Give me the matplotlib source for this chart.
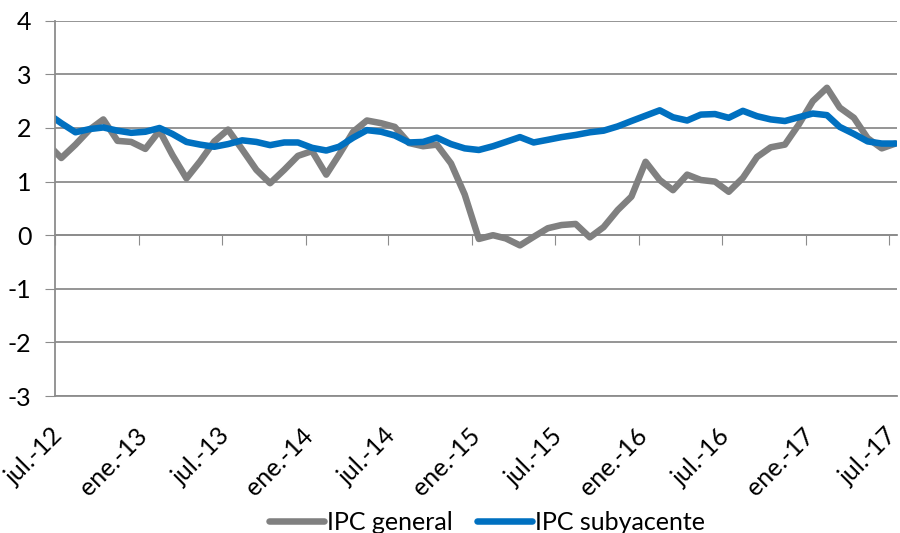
import matplotlib
matplotlib.use("Agg")
import matplotlib.pyplot as plt
import matplotlib.transforms as mtransforms
import pandas as pd

# monthly values, jun-12 .. jul-17 (jun-12 only shows as the clipped start)
months = pd.date_range("2012-06-01", "2017-07-01", freq="MS") + pd.Timedelta(days=14)

ipc_general = [1.70,
    1.44, 1.69, 1.97, 2.16, 1.76, 1.74, 1.61, 1.95, 1.50, 1.06,
    1.38, 1.75, 1.97, 1.60, 1.22, 0.97, 1.22, 1.48, 1.57, 1.13,
    1.50, 1.93, 2.14, 2.09, 2.02, 1.72, 1.66, 1.69, 1.34, 0.76,
    -0.07, 0.00, -0.06, -0.19, -0.03, 0.13, 0.19, 0.21, -0.04, 0.15,
    0.47, 0.72, 1.37, 1.03, 0.84, 1.13, 1.03, 1.00, 0.81, 1.07,
    1.46, 1.64, 1.69, 2.06, 2.50, 2.75, 2.38, 2.19, 1.81, 1.62,
    1.71]

ipc_subyacente = [2.27,
    2.09, 1.92, 1.98, 2.01, 1.95, 1.91, 1.93, 2.00, 1.89, 1.74,
    1.69, 1.65, 1.70, 1.77, 1.74, 1.68, 1.73, 1.73, 1.63, 1.58,
    1.65, 1.82, 1.96, 1.93, 1.86, 1.73, 1.74, 1.82, 1.70, 1.62,
    1.59, 1.66, 1.74, 1.83, 1.73, 1.78, 1.83, 1.87, 1.92, 1.95,
    2.03, 2.13, 2.23, 2.33, 2.20, 2.14, 2.25, 2.26, 2.19, 2.32,
    2.22, 2.16, 2.13, 2.20, 2.27, 2.24, 2.02, 1.89, 1.75, 1.71,
    1.71]

tick_dates = pd.date_range("2012-07-01", "2017-07-01", freq="6MS")
tick_labels = ["jul.-12", "ene.-13", "jul.-13", "ene.-14", "jul.-14", "ene.-15",
               "jul.-15", "ene.-16", "jul.-16", "ene.-17", "jul.-17"]

plt.rcParams["font.family"] = ["Lato", "DejaVu Sans"]
plt.rcParams["axes.unicode_minus"] = False
grid_c = "#8c8c8c"

fig = plt.figure(figsize=(9, 5.33), dpi=100)
ax = fig.add_axes([0.061, 0.257, 0.936, 0.704])

ax.plot(months, ipc_general, color="#808080", lw=4.7, label="IPC general",
        solid_capstyle="round", solid_joinstyle="round")
ax.plot(months, ipc_subyacente, color="#0070c0", lw=4.7, label="IPC subyacente",
        solid_capstyle="round", solid_joinstyle="round")

ax.set_ylim(-3, 4)
ax.set_yticks(range(-3, 5))
ax.set_xlim(pd.Timestamp("2012-07-01"), pd.Timestamp("2017-07-19"))
ax.set_xticks(tick_dates)
ax.set_xticklabels([])
ax.tick_params(axis="x", length=0)
ax.tick_params(axis="y", length=7, color=grid_c, labelsize=18, pad=10)
ax.grid(axis="y", color=grid_c, lw=1.3)
ax.set_axisbelow(True)

# rotated category labels, hung below the plot area
lab_tr = ax.get_xaxis_transform() + mtransforms.ScaledTranslation(
    4 / 100, -36 / 100, fig.dpi_scale_trans)
for d, t in zip(tick_dates, tick_labels):
    ax.text(d, 0, t, transform=lab_tr, rotation=45, ha="right", va="center",
            rotation_mode="anchor", fontsize=18, clip_on=False)

for s in ["top", "right"]:
    ax.spines[s].set_visible(False)
ax.spines["left"].set_color(grid_c)
ax.spines["left"].set_linewidth(1.3)
ax.spines["bottom"].set_color(grid_c)
ax.spines["bottom"].set_linewidth(1.3)

# category axis crosses at y = 0, ticks only
sec = ax.secondary_xaxis(3 / 7)
sec.set_xticks(tick_dates)
sec.set_xticklabels([])
sec.tick_params(length=7, color=grid_c, direction="out")
sec.spines["bottom"].set_color(grid_c)
sec.spines["bottom"].set_linewidth(1.3)

fig.legend(loc="center", bbox_to_anchor=(0.541, 1 - 522 / 533), ncol=2,
           frameon=False, fontsize=18, handlelength=2.2, handletextpad=0.1,
           columnspacing=1.0)

fig.savefig("out.png", dpi=100)
